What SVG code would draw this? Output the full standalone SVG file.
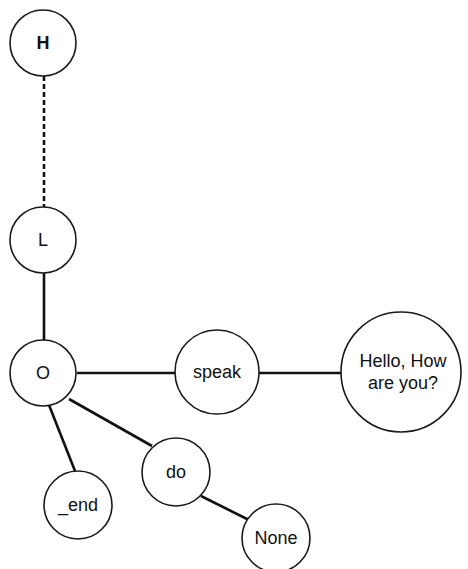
<svg xmlns="http://www.w3.org/2000/svg" width="468" height="569" viewBox="0 0 468 569">
  <style>
    .node circle { fill: #ffffff; stroke: #1a1a1a; stroke-width: 1.6; }
    .node text { font-family: "Liberation Sans", Arial, sans-serif; font-size: 18px; fill: #111; text-anchor: middle; dominant-baseline: central; }
    .edges line { stroke: #111; stroke-width: 2.6; }
    .edges .dashed { stroke-dasharray: 5 3; }
  </style>
  <rect width="468" height="569" fill="#ffffff"/>
  <g class="edges">
    <line class="dashed" x1="44" y1="76" x2="44" y2="207"/>
    <line x1="44" y1="273" x2="44" y2="340"/>
    <line x1="77" y1="373" x2="175" y2="373"/>
    <line x1="259" y1="373" x2="342" y2="373"/>
    <line x1="49" y1="405" x2="75" y2="471"/>
    <line x1="69" y1="399" x2="152" y2="446"/>
    <line x1="201" y1="496" x2="251" y2="521"/>
  </g>
  <g id="node-H" class="node">
    <circle cx="43" cy="43" r="33"/>
    <text x="43" y="43" font-weight="bold">H</text>
  </g>
  <g id="node-L" class="node">
    <circle cx="43" cy="240" r="33"/>
    <text x="43" y="240">L</text>
  </g>
  <g id="node-O" class="node">
    <circle cx="43" cy="373" r="33"/>
    <text x="43" y="373">O</text>
  </g>
  <g id="node-speak" class="node">
    <circle cx="217" cy="372" r="42"/>
    <text x="217" y="372">speak</text>
  </g>
  <g id="node-hello" class="node">
    <circle cx="401" cy="372" r="60"/>
    <text x="403" y="361">Hello, How</text>
    <text x="403" y="383">are you?</text>
  </g>
  <g id="node-do" class="node">
    <circle cx="176" cy="472" r="34"/>
    <text x="176" y="472">do</text>
  </g>
  <g id="node-end" class="node">
    <circle cx="78" cy="505" r="34"/>
    <text x="78" y="505">_end</text>
  </g>
  <g id="node-None" class="node">
    <circle cx="276" cy="538" r="34"/>
    <text x="276" y="538">None</text>
  </g>
</svg>
